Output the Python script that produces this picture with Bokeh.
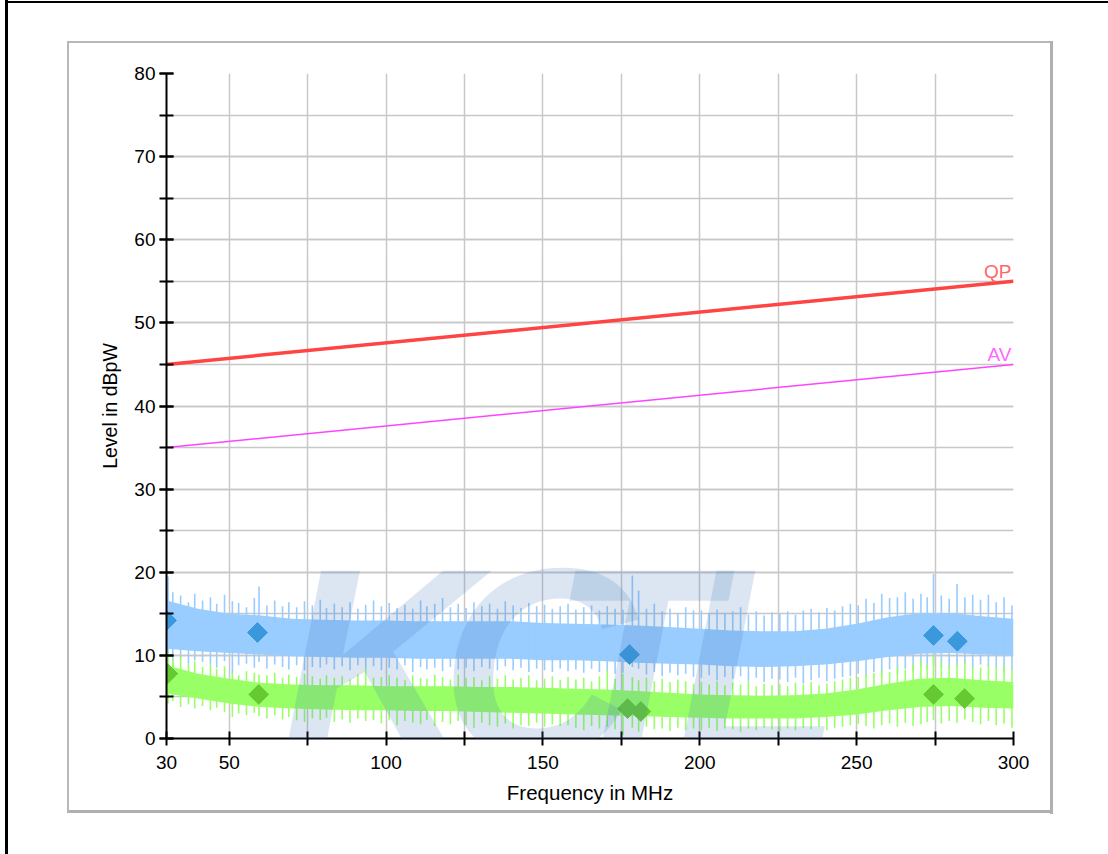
from bokeh.plotting import figure
from bokeh.models import Range1d, FixedTicker, SingleIntervalTicker, Label
from bokeh.embed import file_html
from bokeh.resources import INLINE
import math

# ---------------- data ----------------
x_ticks = [30, 50, 75, 100, 125, 150, 175, 200, 225, 250, 275, 300]
x_tick_labels = {75: "", 125: "", 175: "", 225: "", 275: ""}

limit_freq = [30, 300]
qp_limit = [45, 55]
av_limit = [35, 45]

core_freq = [30, 40, 50, 60, 70, 80, 90, 100, 110, 120, 130, 140, 150, 160,
             170, 180, 190, 200, 210, 220, 230, 240, 250, 260, 270, 280, 290, 300]
blue_hi = [16.6, 15.6, 15.0, 14.8, 14.4, 14.3, 14.2, 14.2, 14.1, 14.1, 14.1, 14.1, 13.9, 13.8,
           13.7, 13.6, 13.4, 13.2, 13.0, 12.9, 12.9, 13.2, 13.8, 14.6, 15.1, 15.1, 14.7, 14.4]
blue_lo = [10.8, 10.5, 10.3, 10.1, 9.9, 9.8, 9.7, 9.7, 9.6, 9.6, 9.6, 9.6, 9.4, 9.4,
           9.3, 9.1, 9.0, 8.9, 8.7, 8.6, 8.7, 8.9, 9.3, 9.8, 10.2, 10.3, 10.1, 10.0]
green_hi = [8.8, 7.8, 7.2, 6.7, 6.5, 6.4, 6.4, 6.3, 6.3, 6.3, 6.2, 6.2, 6.1, 6.0,
            5.9, 5.7, 5.5, 5.3, 5.2, 5.1, 5.2, 5.4, 5.9, 6.6, 7.2, 7.3, 7.0, 6.8]
green_lo = [5.4, 4.8, 4.2, 3.8, 3.6, 3.5, 3.4, 3.4, 3.3, 3.3, 3.2, 3.1, 3.0, 2.9,
            2.8, 2.7, 2.6, 2.5, 2.4, 2.4, 2.4, 2.6, 2.9, 3.4, 3.8, 3.9, 3.7, 3.6]

spike_freq = [30.5, 32, 34.5, 37, 39, 41.5, 44, 46, 48.5, 51,
              53, 55.5, 58, 59.5, 62, 64.5, 67, 69, 71.5, 74,
              76.5, 79, 81, 83.5, 86, 88.5, 91, 93.5, 96, 98.5,
              101, 103.5, 106, 108.5, 111, 113, 115.5, 118, 120.5, 123,
              125.5, 128, 130.5, 133, 135.5, 138, 140.5, 143, 145.5, 148,
              150.5, 153, 155.5, 158, 160.5, 163, 165.5, 168, 170.5, 173,
              175.5, 178.5, 180.5, 183, 185.5, 188, 190.5, 193, 195.5, 198,
              200.5, 203, 205.5, 208, 210.5, 213, 215.5, 218, 220.5, 223,
              225.5, 228, 230.5, 233, 235.5, 238, 240.5, 243, 245.5, 248,
              250.5, 253, 255.5, 258, 260.5, 263, 265.5, 268, 270.5, 272.5,
              274.5, 277, 279.5, 282, 284.5, 287, 289.5, 292, 294.5, 297,
              299.5]
blue_spike_hi = [19.5, 17.6, 17.2, 16.4, 17.4, 16.6, 17.0, 16.2, 17.3, 16.5,
                 16.3, 15.8, 16.9, 18.3, 16.0, 16.6, 15.9, 16.4, 15.8, 16.5,
                 16.0, 16.7, 15.7, 16.2, 15.8, 16.4, 15.6, 16.1, 16.6, 15.9,
                 16.3, 15.7, 16.1, 15.6, 16.6, 15.9, 16.2, 16.9, 15.8, 16.2,
                 15.7, 16.4, 15.9, 16.2, 15.6, 16.5, 16.0, 15.7, 16.3, 15.9,
                 16.1, 15.6, 15.9, 16.2, 15.5, 15.8, 16.0, 15.4, 15.9, 15.6,
                 15.5, 19.6, 17.8, 15.6, 16.2, 15.3, 15.6, 15.1, 15.8, 15.4,
                 15.4, 15.0, 15.5, 15.1, 15.3, 15.8, 14.9, 15.3, 14.8, 15.2,
                 15.0, 15.3, 14.9, 15.4, 15.6, 15.2, 15.7, 15.4, 15.9, 16.2,
                 16.0, 16.8, 16.3, 17.4, 16.9, 17.0, 17.6, 16.8, 17.4, 17.0,
                 19.8, 17.2, 16.8, 18.6, 17.0, 17.3, 16.7, 17.3, 16.4, 17.0,
                 16.0]
blue_spike_lo = [10.0, 8.2, 9.5, 9.0, 9.4, 9.2, 8.9, 8.5, 9.3, 7.8,
                 8.8, 9.0, 8.5, 9.2, 8.4, 8.9, 8.6, 8.3, 8.8, 8.2,
                 8.6, 8.5, 8.9, 8.3, 8.7, 8.2, 8.8, 8.4, 8.7, 8.2,
                 8.5, 8.3, 8.8, 8.0, 8.6, 8.3, 8.5, 8.1, 8.6, 8.3,
                 8.5, 8.1, 8.6, 8.4, 8.2, 8.7, 8.2, 8.5, 8.0, 8.4,
                 8.2, 8.0, 8.4, 8.1, 8.3, 7.9, 8.4, 8.0, 8.1, 7.8,
                 7.9, 8.6, 8.4, 7.7, 8.0, 7.5, 7.9, 7.6, 7.8, 7.4,
                 7.3, 7.6, 7.0, 7.4, 7.2, 7.5, 6.9, 7.3, 6.8, 7.2,
                 7.1, 6.8, 7.3, 6.6, 7.0, 7.3, 6.9, 7.2, 7.4, 7.5,
                 7.8, 7.4, 8.0, 7.6, 8.3, 7.9, 8.4, 8.1, 8.6, 8.3,
                 8.8, 8.5, 8.3, 8.6, 8.9, 8.4, 8.9, 8.6, 8.5, 7.9,
                 8.2]
green_spike_hi = [10.3, 9.6, 9.8, 9.0, 9.3, 8.6, 8.9, 8.4, 8.7, 7.9,
                  7.6, 8.1, 7.9, 7.7, 7.6, 7.9, 7.3, 7.7, 7.4, 7.8,
                  7.5, 7.2, 7.6, 7.3, 7.5, 7.1, 7.7, 8.4, 7.3, 7.4,
                  7.6, 7.3, 7.0, 7.6, 7.3, 7.2, 7.7, 7.4, 7.1, 7.7,
                  7.3, 7.4, 7.0, 7.5, 7.2, 7.6, 7.1, 7.3, 7.6, 7.0,
                  7.2, 7.5, 7.0, 7.4, 7.1, 7.3, 6.9, 7.5, 8.2, 7.2,
                  7.8, 7.4, 7.0, 7.3, 6.9, 7.2, 6.8, 7.1, 6.9, 6.6,
                  6.8, 6.5, 6.9, 6.4, 6.7, 6.5, 6.9, 6.3, 6.6, 6.4,
                  6.6, 6.3, 6.7, 6.5, 6.8, 6.4, 6.6, 6.9, 7.1, 7.3,
                  7.4, 7.7, 7.9, 8.2, 8.0, 8.6, 8.3, 9.0, 9.4, 8.9,
                  10.0, 9.3, 8.8, 9.0, 9.2, 8.6, 8.5, 8.9, 8.6, 8.9,
                  8.4]
green_spike_lo = [4.2, 4.5, 3.8, 4.1, 3.6, 3.9, 3.4, 3.7, 3.2, 2.6,
                  3.0, 2.8, 3.1, 2.7, 2.4, 2.8, 2.3, 2.6, 2.2, 2.0,
                  2.4, 2.2, 2.5, 2.0, 2.3, 1.9, 2.4, 2.1, 2.2, 1.8,
                  2.2, 1.6, 2.1, 1.9, 1.7, 2.2, 1.5, 2.0, 1.7, 2.1,
                  1.6, 1.3, 1.9, 1.6, 1.4, 1.8, 1.2, 1.6, 1.5, 1.9,
                  1.4, 1.7, 1.5, 1.6, 1.3, 1.0, 1.5, 1.2, 1.4, 1.1,
                  0.4, 1.3, 0.8, 1.4, 1.1, 1.2, 0.9, 1.3, 1.0, 1.2,
                  1.0, 1.3, 0.9, 1.2, 1.1, 0.8, 1.2, 1.0, 1.3, 1.1,
                  0.9, 1.2, 1.0, 1.3, 1.1, 1.4, 1.0, 1.3, 1.4, 1.6,
                  1.7, 1.5, 1.2, 1.6, 1.8, 1.4, 1.9, 1.5, 1.7, 2.0,
                  2.2, 1.8, 2.1, 1.9, 2.3, 2.0, 1.7, 2.1, 1.6, 1.8,
                  1.3]

qp_peak_f = [30.0, 59.0, 177.6, 274.5, 282.1]
qp_peak_v = [14.2, 12.75, 10.1, 12.4, 11.7]
av_peak_f = [30.4, 59.4, 177.0, 181.2, 274.5, 284.4]
av_peak_v = [7.8, 5.3, 3.6, 3.25, 5.3, 4.8]

watermark_letters = ["K", "C", "T", "L"]

# ---------------- figure ----------------
FONT = "Liberation Sans"
solid_black = "linear-gradient(#000000, #000000)"
solid_gray = "linear-gradient(#b8b8b8, #b8b8b8)"
solid_dgray = "linear-gradient(#b0b0b0, #b0b0b0)"
page_styles = {
    "background-color": "#ffffff",
    "background-image": ", ".join([solid_black, solid_black, solid_gray, solid_dgray,
                                   solid_gray, solid_dgray]),
    "background-position": "5px 0px, 5px 1px, 67px 41px, 1050px 41px, 67px 41px, 67px 810px",
    "background-size": "3px 854px, 1103px 2px, 2px 771px, 3px 773px, 985px 2px, 986px 3px",
    "background-repeat": "no-repeat",
}
p = figure(width=1108, height=854, output_backend="svg", toolbar_location=None,
           x_range=Range1d(30, 300), y_range=Range1d(0, 80),
           min_border_left=166, min_border_right=95, min_border_top=73, min_border_bottom=116,
           styles=page_styles)
p.outline_line_color = None
p.background_fill_color = "white"
p.border_fill_color = None

# grids / axes
p.xaxis.ticker = FixedTicker(ticks=x_ticks)
p.xaxis.major_label_overrides = x_tick_labels
p.yaxis.ticker = SingleIntervalTicker(interval=10, num_minor_ticks=2)
for g in (p.xgrid, p.ygrid):
    g.grid_line_color = "#c8c8c8"
    g.grid_line_width = 1.5
p.ygrid.minor_grid_line_color = "#c8c8c8"
p.ygrid.minor_grid_line_width = 1.5

for ax in (p.xaxis, p.yaxis):
    ax.axis_line_color = "black"
    ax.axis_line_width = 2
    ax.major_tick_line_color = "black"
    ax.major_tick_line_width = 2
    ax.major_tick_in = 7
    ax.major_tick_out = 7
    ax.minor_tick_line_color = "black"
    ax.minor_tick_line_width = 2
    ax.minor_tick_in = 7
    ax.minor_tick_out = 7
    ax.major_label_text_font = FONT
    ax.major_label_text_font_size = "19px"
    ax.major_label_text_color = "black"
    ax.axis_label_text_font = FONT
    ax.axis_label_text_font_style = "normal"
    ax.axis_label_text_color = "black"
p.xaxis.axis_label_text_font_size = "20.5px"
p.yaxis.axis_label_text_font_size = "19.5px"
p.xaxis.minor_tick_line_color = None
p.xaxis.major_label_standoff = 10
p.yaxis.major_label_standoff = 4
p.xaxis.axis_label_standoff = 9
p.yaxis.axis_label_standoff = 10
p.xaxis.axis_label = "Frequency in MHz"
p.yaxis.axis_label = "Level in dBpW"

# traces
p.varea(x=core_freq, y1=blue_lo, y2=blue_hi, fill_color="#99ccff")
p.segment(x0=spike_freq, y0=blue_spike_lo, x1=spike_freq, y1=blue_spike_hi,
          line_color="#99ccff", line_width=1.6)
p.varea(x=core_freq, y1=green_lo, y2=green_hi, fill_color="#99ff66")
p.segment(x0=spike_freq, y0=green_spike_lo, x1=spike_freq, y1=green_spike_hi,
          line_color="#99ff66", line_width=1.6)

# limits
p.line(limit_freq, qp_limit, line_color="#ff4444", line_width=3.5)
p.line(limit_freq, av_limit, line_color="#ff44ff", line_width=1.5)
p.add_layout(Label(x=limit_freq[-1], y=qp_limit[-1], text="QP", text_align="right",
                   text_baseline="alphabetic", y_offset=10, x_offset=-2,
                   text_font=FONT, text_font_size="19px", text_color="#ff6666"))
p.add_layout(Label(x=limit_freq[-1], y=av_limit[-1], text="AV", text_align="right",
                   text_baseline="alphabetic", y_offset=10, x_offset=-2,
                   text_font=FONT, text_font_size="19px", text_color="#ff66ff"))

# peaks
p.scatter(qp_peak_f, qp_peak_v, marker="square", angle=math.pi / 4, size=14,
          fill_color="#3a98dc", line_color="#3a98dc")
p.scatter(av_peak_f, av_peak_v, marker="square", angle=math.pi / 4, size=14,
          fill_color="#66c933", line_color="#66c933")

# watermark (top-anchored)
for ch, xx in zip(watermark_letters, [66.3, 117.3, 152.4, 192.3]):
    p.add_layout(Label(x=xx, y=27.2, text=ch, text_font=FONT, text_font_size="270px",
                       text_font_style="bold italic", text_color="#417cba", text_alpha=0.19,
                       text_baseline="top", text_align="left"))

open("out.html", "w").write(file_html(p, INLINE))
